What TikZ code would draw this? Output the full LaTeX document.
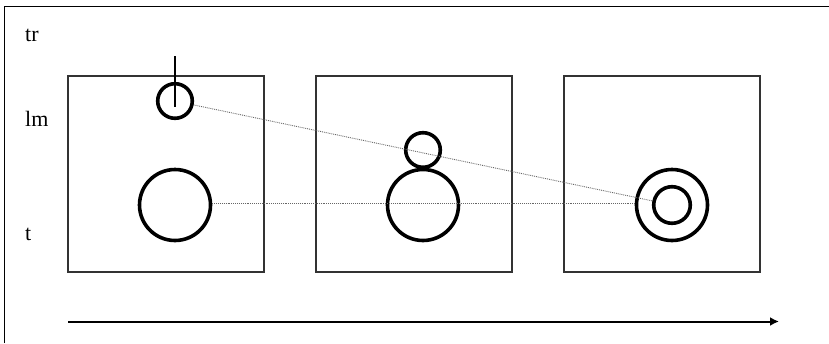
\documentclass[tikz,border=0pt]{standalone}
\usepackage{fontspec}
\setmainfont{Liberation Serif}
\usepackage{tikz}
\usetikzlibrary{arrows.meta}

\begin{document}
\begin{tikzpicture}[x=1pt, y=-1pt,
  frame/.style={draw=black!80, line width=1.8pt, minimum size=196pt, inner sep=0pt},
  ring/.style={circle, draw=black, line width=3.6pt, inner sep=0pt},
  link/.style={draw=black!60, densely dotted, line width=0.9pt},
  lbl/.style={font=\fontsize{22}{26}\selectfont, anchor=base west, inner sep=0pt},
]
\useasboundingbox (0,0) rectangle (829,343);
\draw[line width=1.6pt] (4.5,343) -- (4.5,6.5) -- (829,6.5);

% labels on the left
\node[lbl] (tr) at (25,41) {tr};
\node[lbl] (lm) at (25,126) {lm};
\node[lbl] (t) at (25,240) {t};

% three frames
\node[frame] (f1) at (166,174) {};
\node[frame] (f2) at (414,174) {};
\node[frame] (f3) at (662,174) {};

% frame 1
\node[ring, minimum size=34.6pt] (s1) at (175,101) {};
\node[ring, minimum size=71pt] (b1) at (175,205) {};
\draw[line width=1.6pt] (175,56) -- (s1.center) -- ++(0,6);

% frame 2
\node[ring, minimum size=34.6pt] (s2) at (423,150) {};
\node[ring, minimum size=71pt] (b2) at (423,205) {};

% frame 3
\node[ring, minimum size=71pt] (o3) at (672,205) {};
\node[ring, minimum size=36.6pt] (i3) at (672,205) {};

% traces
\draw[link] (s1) -- (i3);
\draw[link] ([yshift=2pt]b1.east) -- ([yshift=2pt]o3.west);

% time axis
\coordinate (ax0) at (68,321.5);
\coordinate (ax1) at (779,321.5);
\draw[line width=2pt, -{Latex[length=9pt, width=9pt]}] (ax0) -- (ax1);
\end{tikzpicture}
\end{document}
